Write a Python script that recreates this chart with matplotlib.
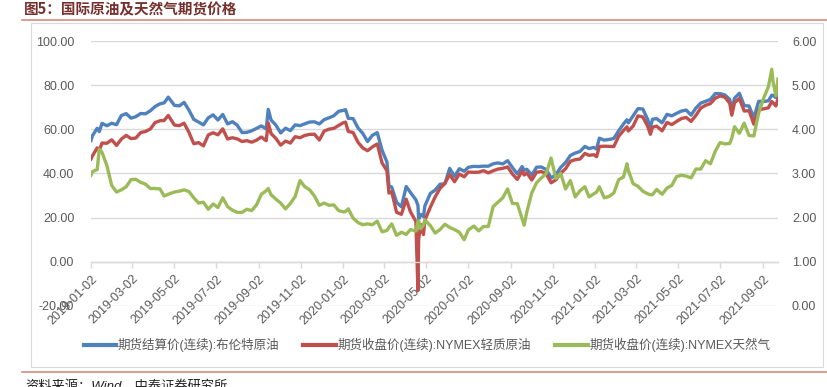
import matplotlib
matplotlib.use("Agg")
import matplotlib.pyplot as plt
import matplotlib.dates as mdates
from matplotlib.lines import Line2D
import numpy as np

plt.rcParams['font.family'] = ['Liberation Sans', 'Noto Sans CJK SC', 'DejaVu Sans']

# ---------------- data
dates = [
    '2019-01-02', '2019-01-04', '2019-01-11', '2019-01-14', '2019-01-18', '2019-01-25',
    '2019-02-01', '2019-02-08', '2019-02-15', '2019-02-22', '2019-03-01', '2019-03-08',
    '2019-03-15', '2019-03-22', '2019-03-29', '2019-04-05', '2019-04-12', '2019-04-18',
    '2019-04-24', '2019-05-03', '2019-05-10', '2019-05-17', '2019-05-24', '2019-05-31',
    '2019-06-07', '2019-06-14', '2019-06-21', '2019-06-28', '2019-07-05', '2019-07-12',
    '2019-07-19', '2019-07-26', '2019-08-02', '2019-08-09', '2019-08-16', '2019-08-23',
    '2019-08-30', '2019-09-06', '2019-09-13', '2019-09-16', '2019-09-20', '2019-09-27',
    '2019-10-04', '2019-10-11', '2019-10-18', '2019-10-25', '2019-11-01', '2019-11-08',
    '2019-11-15', '2019-11-22', '2019-11-29', '2019-12-06', '2019-12-13', '2019-12-20',
    '2019-12-27',
    '2020-01-03', '2020-01-06', '2020-01-10', '2020-01-17', '2020-01-24', '2020-01-31',
    '2020-02-07', '2020-02-14', '2020-02-21', '2020-02-28', '2020-03-06', '2020-03-09',
    '2020-03-13', '2020-03-20', '2020-03-27', '2020-04-03', '2020-04-09', '2020-04-17',
    '2020-04-20', '2020-04-21', '2020-04-24', '2020-04-28', '2020-04-30', '2020-05-08',
    '2020-05-15', '2020-05-22', '2020-05-29', '2020-06-05', '2020-06-12', '2020-06-19',
    '2020-06-26', '2020-07-02', '2020-07-10', '2020-07-17', '2020-07-24', '2020-07-31',
    '2020-08-07', '2020-08-14', '2020-08-21', '2020-08-28', '2020-09-04', '2020-09-11',
    '2020-09-18', '2020-09-21', '2020-09-25', '2020-10-02', '2020-10-09', '2020-10-16',
    '2020-10-23', '2020-10-30', '2020-11-06', '2020-11-13', '2020-11-20', '2020-11-27',
    '2020-12-04', '2020-12-11', '2020-12-18', '2020-12-24', '2020-12-31',
    '2021-01-04', '2021-01-08', '2021-01-15', '2021-01-22', '2021-01-29', '2021-02-05',
    '2021-02-12', '2021-02-17', '2021-02-19', '2021-02-26', '2021-03-05', '2021-03-12',
    '2021-03-19', '2021-03-23', '2021-03-26', '2021-04-01', '2021-04-09', '2021-04-16',
    '2021-04-23', '2021-04-30', '2021-05-07', '2021-05-14', '2021-05-21', '2021-05-28',
    '2021-06-04', '2021-06-11', '2021-06-18', '2021-06-25', '2021-07-02', '2021-07-09',
    '2021-07-16', '2021-07-19', '2021-07-23', '2021-07-30', '2021-08-06', '2021-08-13',
    '2021-08-20', '2021-08-27', '2021-09-03', '2021-09-10', '2021-09-15', '2021-09-17',
    '2021-09-21', '2021-09-24',
]

brent = [
    54.91, 57.06, 60.48, 59.00, 62.70, 61.64,
    62.75, 62.10, 66.25, 67.12, 65.07, 65.74,
    67.16, 67.03, 68.39, 70.34, 71.55, 71.97,
    74.57, 70.85, 70.62, 72.21, 68.69, 64.49,
    63.29, 62.01, 65.20, 66.55, 64.23, 66.72,
    62.47, 63.46, 61.89, 58.53, 58.64, 59.34,
    60.43, 61.54, 60.22, 69.02, 64.28, 61.91,
    58.37, 60.51, 59.42, 62.02, 61.69, 62.51,
    63.30, 63.39, 62.43, 64.39, 65.22, 66.14,
    68.16,
    68.60, 68.91, 64.98, 64.85, 60.69, 58.16,
    54.47, 57.32, 58.50, 50.52, 45.27, 34.36,
    33.85, 26.98, 24.93, 34.11, 31.48, 28.08,
    25.57, 19.33, 21.44, 20.46, 25.27, 30.97,
    32.50, 35.13, 35.33, 42.30, 38.73, 42.19,
    41.02, 42.80, 43.24, 43.14, 43.34, 43.30,
    44.40, 44.80, 44.35, 45.81, 42.66, 39.83,
    43.15, 41.44, 41.92, 39.27, 42.85, 42.93,
    41.77, 37.94, 39.45, 42.78, 44.96, 48.18,
    49.25, 49.97, 52.26, 51.29, 51.80,
    51.09, 55.99, 55.10, 55.41, 55.88, 59.34,
    62.43, 64.34, 62.91, 66.13, 69.36, 69.22,
    64.53, 60.79, 64.57, 64.86, 62.95, 66.77,
    66.11, 67.25, 68.28, 68.71, 66.44, 69.63,
    71.89, 72.69, 73.51, 76.18, 76.17, 75.55,
    73.59, 68.62, 74.10, 76.33, 70.70, 70.59,
    65.18, 72.70, 72.61, 72.92, 75.46, 75.34,
    74.36, 78.09,
]

wti = [
    46.54, 47.96, 51.59, 50.50, 53.80, 53.69,
    55.26, 52.72, 55.59, 57.26, 55.80, 56.07,
    58.52, 59.04, 60.14, 63.08, 63.89, 64.00,
    66.30, 61.94, 61.66, 62.76, 58.63, 53.50,
    53.99, 52.51, 57.43, 58.47, 57.51, 60.21,
    55.63, 56.20, 55.66, 54.50, 54.87, 54.17,
    55.10, 56.52, 54.85, 62.90, 58.09, 55.91,
    52.81, 54.70, 53.78, 56.66, 56.20, 57.24,
    57.72, 57.77, 55.17, 59.20, 60.07, 60.44,
    61.72,
    63.05, 63.27, 59.04, 58.54, 54.19, 51.56,
    50.32, 52.05, 53.38, 44.76, 41.28, 31.13,
    31.73, 22.43, 21.51, 28.34, 22.76, 18.27,
    -13.00, 10.01, 16.94, 12.34, 18.84, 24.74,
    29.43, 33.25, 35.49, 39.55, 36.26, 39.75,
    38.49, 40.65, 40.55, 40.59, 41.29, 40.27,
    41.22, 42.01, 42.34, 42.97, 39.77, 37.33,
    41.11, 39.31, 40.25, 37.05, 40.60, 40.88,
    39.85, 35.79, 37.14, 40.13, 42.15, 45.53,
    46.26, 46.57, 49.10, 48.23, 48.52,
    47.62, 52.24, 52.36, 52.27, 52.20, 56.85,
    59.47, 61.14, 59.24, 61.50, 66.09, 65.61,
    61.42, 57.76, 60.97, 61.45, 59.32, 63.13,
    62.14, 63.58, 64.90, 65.37, 63.58, 66.32,
    69.62, 70.91, 71.64, 74.05, 75.16, 74.56,
    71.81, 66.42, 72.07, 73.95, 68.28, 68.44,
    62.32, 68.74, 69.29, 69.72, 72.61, 71.97,
    70.56, 73.98,
]

natgas = [
    2.96, 3.04, 3.09, 3.55, 3.48, 3.18,
    2.73, 2.58, 2.63, 2.70, 2.86, 2.87,
    2.80, 2.76, 2.66, 2.66, 2.65, 2.49,
    2.53, 2.58, 2.60, 2.63, 2.59, 2.45,
    2.33, 2.35, 2.19, 2.31, 2.23, 2.45,
    2.25, 2.17, 2.12, 2.12, 2.19, 2.16,
    2.29, 2.53, 2.61, 2.66, 2.52, 2.42,
    2.33, 2.20, 2.32, 2.48, 2.84, 2.70,
    2.63, 2.49, 2.28, 2.33, 2.28, 2.29,
    2.16,
    2.13, 2.14, 2.20, 1.99, 1.89, 1.84,
    1.86, 1.84, 1.92, 1.68, 1.71, 1.78,
    1.86, 1.60, 1.67, 1.62, 1.73, 1.70,
    1.92, 1.93, 1.75, 1.83, 1.95, 1.82,
    1.65, 1.73, 1.85, 1.78, 1.73, 1.67,
    1.50, 1.72, 1.81, 1.70, 1.80, 1.80,
    2.25, 2.35, 2.45, 2.65, 2.32, 2.32,
    1.98, 1.83, 2.14, 2.56, 2.79, 2.90,
    3.00, 3.35, 2.89, 3.00, 2.65, 2.84,
    2.47, 2.61, 2.70, 2.47, 2.54,
    2.58, 2.70, 2.45, 2.48, 2.56, 2.86,
    2.92, 3.22, 3.07, 2.77, 2.71, 2.60,
    2.54, 2.52, 2.52, 2.64, 2.53, 2.67,
    2.73, 2.93, 2.96, 2.94, 2.90, 3.10,
    3.10, 3.29, 3.22, 3.50, 3.70, 3.67,
    3.68, 3.80, 4.06, 3.91, 4.14, 3.86,
    3.85, 4.37, 4.70, 4.96, 5.36, 5.06,
    4.76, 5.14,
]

labels = ['期货结算价(连续):布伦特原油',
          '期货收盘价(连续):NYMEX轻质原油',
          '期货收盘价(连续):NYMEX天然气']
colors = ['#4F81BD', '#C0504D', '#9BBB59']

x_ticks = ['2019-01-02', '2019-03-02', '2019-05-02', '2019-07-02', '2019-09-02',
           '2019-11-02', '2020-01-02', '2020-03-02', '2020-05-02', '2020-07-02',
           '2020-09-02', '2020-11-02', '2021-01-02', '2021-03-02', '2021-05-02',
           '2021-07-02', '2021-09-02']

t = np.array(dates, dtype='datetime64[D]')
tk = np.array(x_ticks, dtype='datetime64[D]')

W, H = 827, 387
fig = plt.figure(figsize=(W / 100, H / 100), dpi=100)

# frame + rules
fig.add_artist(plt.Rectangle((31 / W, 1 - 367 / H), (823 - 31) / W, (367 - 23) / H,
                             transform=fig.transFigure, fill=False, ec='#D9D9D9', lw=0.8))
fig.add_artist(Line2D([22 / W, 1], [1 - 20 / H] * 2, transform=fig.transFigure,
                      color='#D58C7E', lw=1.2))
fig.add_artist(Line2D([22 / W, 1], [1 - 372 / H] * 2, transform=fig.transFigure,
                      color='#D58C7E', lw=1.2))

fig.text(24 / W, 1 - 9 / H, '图5：国际原油及天然气期货价格', fontsize=10.5,
         fontweight='bold', color='#76302D', va='center', ha='left',
         family=['Noto Sans CJK SC', 'DejaVu Sans'])
fig.text(25 / W, 1 - 380 / H, '资料来源：Wind，中泰证券研究所', fontsize=9.5,
         color='#222222', va='top', ha='left', style='italic')

ax = fig.add_axes([91 / W, 1 - 306 / H, (778 - 91) / W, (306 - 41) / H])
ax2 = ax.twinx()

ax.plot(t, brent, color=colors[0], lw=2.4, solid_joinstyle='round')
ax.plot(t, wti, color=colors[1], lw=2.4, solid_joinstyle='round')
ax2.plot(t, natgas, color=colors[2], lw=2.4, solid_joinstyle='round')

ax.set_ylim(-20, 100)
ax2.set_ylim(0, 6)
ax.set_yticks(np.arange(-20, 101, 20))
ax2.set_yticks(np.arange(0, 7, 1))
ax.yaxis.set_major_formatter(plt.FormatStrFormatter('%.2f'))
ax2.yaxis.set_major_formatter(plt.FormatStrFormatter('%.2f'))
ax.set_xlim(np.datetime64('2019-01-02'), np.datetime64('2021-09-24'))

ax.grid(axis='y', color='#D9D9D9', lw=1)
ax.set_axisbelow(True)
for a in (ax, ax2):
    for s in ('top', 'left', 'right', 'bottom'):
        a.spines[s].set_visible(False)
ax.spines['bottom'].set_visible(True)
ax.spines['bottom'].set_position(('data', 0))
ax.spines['bottom'].set_color('#D9D9D9')
ax.spines['bottom'].set_linewidth(1)

ax.tick_params(axis='y', length=0, pad=12, labelsize=9, labelcolor='#595959')
ax2.tick_params(axis='y', length=0, pad=10, labelsize=9, labelcolor='#595959')

ax.set_xticks(tk)
ax.xaxis.set_major_formatter(mdates.DateFormatter('%Y-%m-%d'))
ax.tick_params(axis='x', direction='out', length=4, width=1, color='#D9D9D9',
               pad=4, labelsize=9, labelcolor='#595959')
for lab in ax.get_xticklabels():
    lab.set_rotation(45)
    lab.set_ha('right')
    lab.set_va('top')
    lab.set_rotation_mode('anchor')

handles = [Line2D([], [], color=c, lw=3) for c in colors]
fig.legend(handles, labels, loc='center', bbox_to_anchor=(427 / W, 1 - 345 / H),
           ncol=3, frameon=False, fontsize=9, handlelength=2.6, handletextpad=0.15,
           columnspacing=1.9, labelcolor='#595959')

fig.savefig('out.png', dpi=100)
